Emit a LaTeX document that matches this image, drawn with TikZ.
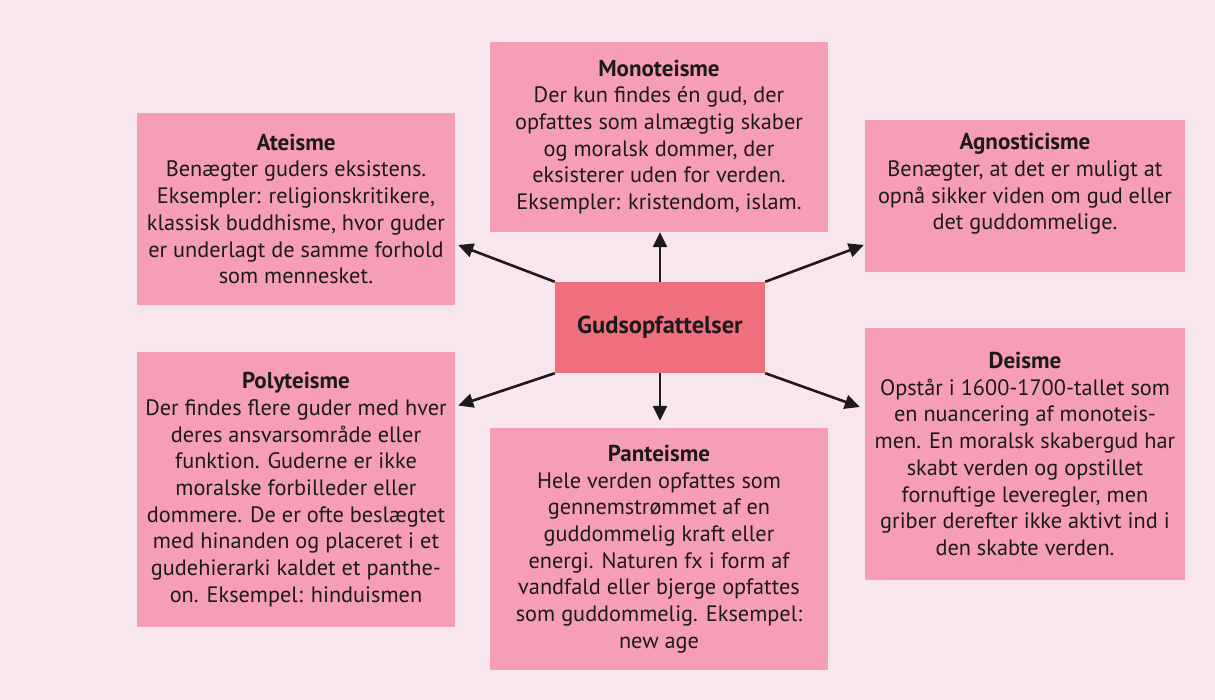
\documentclass[tikz,border=0pt]{standalone}
\usepackage{fontspec}
\setmainfont{PT Sans}
\usetikzlibrary{arrows.meta,calc}
\definecolor{bg}{RGB}{248,230,239}
\definecolor{boxpink}{RGB}{245,158,182}
\definecolor{centerred}{RGB}{240,112,128}
\definecolor{ink}{RGB}{30,26,28}
\newcommand{\ttl}[1]{{\fontsize{23}{26.7}\selectfont\bfseries #1}}
\tikzset{
  infobox/.style={fill=boxpink, draw=none, inner sep=0pt, align=center, text=ink,
    font=\fontsize{22.3}{26.7}\selectfont},
  hub/.style={fill=centerred, draw=none, inner sep=0pt, text=ink,
    minimum width=210pt, minimum height=91pt, font=\fontsize{24.5}{27}\selectfont\bfseries},
  link/.style={draw=ink, line width=2.6pt, -{Triangle[length=15pt,width=14pt]}}
}
\begin{document}
\begin{tikzpicture}[x=1pt,y=-1pt]
\fill[bg] (0,0) rectangle (1215,700);
\useasboundingbox (0,0) rectangle (1215,700);

\node[infobox, minimum width=338pt, minimum height=190pt] (mono) at (659,137)
 {\ttl{Monoteisme}\\Der kun findes én gud, der\\opfattes som almægtig skaber\\og moralsk dommer, der\\eksisterer uden for verden.\\Eksempler: kristendom, islam.};

\node[infobox, minimum width=318pt, minimum height=192pt] (ate) at (296,209)
 {\ttl{Ateisme}\\Benægter guders eksistens.\\Eksempler: religionskritikere,\\klassisk buddhisme, hvor guder\\er underlagt de samme forhold\\som mennesket.};

\node[infobox, minimum width=320pt, minimum height=152pt] (agn) at (1025,196)
 {\ttl{Agnosticisme}\\Benægter, at det er muligt at\\opnå sikker viden om gud eller\\det guddommelige.\\[2pt]};

\node[hub] (c) at (660,327.5) {Gudsopfattelser};

\node[infobox, minimum width=318pt, minimum height=275pt] (poly) at (296,489.5)
 {\ttl{Polyteisme}\\Der findes flere guder med hver\\deres ansvarsområde eller\\funktion. Guderne er ikke\\moralske forbilleder eller\\dommere. De er ofte beslægtet\\med hinanden og placeret i et\\gudehierarki kaldet et panthe-\\on. Eksempel: hinduismen};

\node[infobox, minimum width=338pt, minimum height=242pt] (pan) at (659,549)
 {\ttl{Panteisme}\\Hele verden opfattes som\\gennemstrømmet af en\\guddommelig kraft eller\\energi. Naturen fx i form af\\vandfald eller bjerge opfattes\\som guddommelig. Eksempel:\\new age};

\node[infobox, minimum width=320pt, minimum height=252pt] (deis) at (1025,454)
 {\ttl{Deisme}\\Opstår i 1600-1700-tallet som\\en nuancering af monoteis-\\men. En moralsk skabergud har\\skabt verden og opstillet\\fornuftige leveregler, men\\griber derefter ikke aktivt ind i\\den skabte verden.};

\draw[link] (c.north) -- (c.north |- mono.south);
\draw[link] (c.north west) -- ([xshift=3pt,yshift=-36pt]ate.east);
\draw[link] (c.north east) -- ([xshift=-1pt,yshift=-49pt]agn.west);
\draw[link] (c.south west) -- ([xshift=3pt,yshift=84pt]poly.east);
\draw[link, shorten >=7pt] (c.south) -- (c.south |- pan.north);
\draw[link] (c.south east) -- ([xshift=-5pt,yshift=47pt]deis.west);
\end{tikzpicture}
\end{document}
